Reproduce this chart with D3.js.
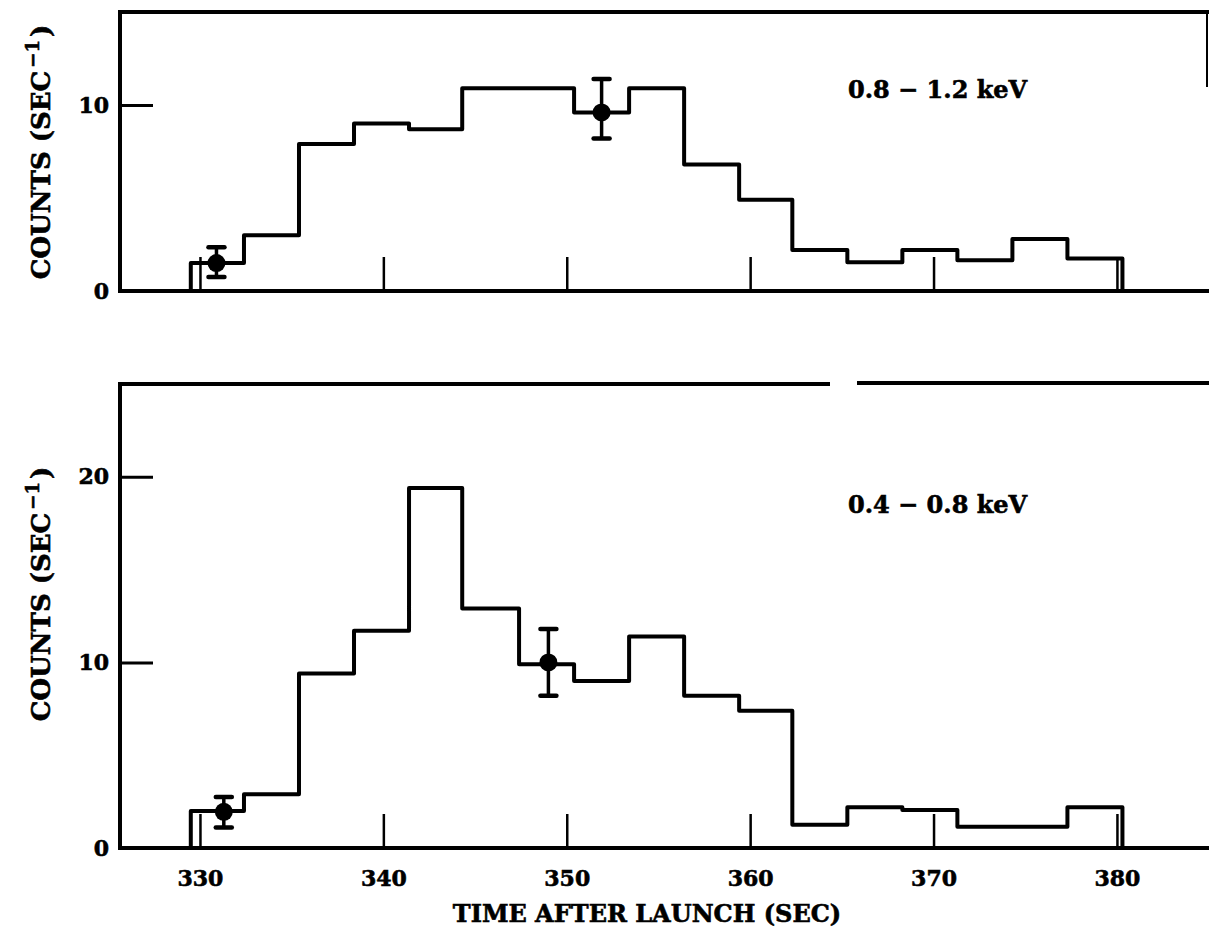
<!DOCTYPE html>
<html>
<head>
<meta charset="utf-8">
<script src="https://cdn.jsdelivr.net/npm/d3@7"></script>
<style>
body{margin:0;background:#fff;}
text{font-family:"DejaVu Serif",serif;font-weight:bold;fill:#000;stroke:#000;stroke-width:0.6px;}
</style>
</head>
<body>
<svg id="chart"></svg>
<script>
// 3 s bins, time after launch (sec)
var binEdges=[329.5,332.4,335.4,338.4,341.4,344.3,347.4,350.4,353.4,356.4,359.4,362.3,365.3,368.3,371.3,374.3,377.3,380.3];
var highCounts=[1.5,3.0,7.9,9.0,8.7,10.9,10.9,9.6,10.9,6.8,4.9,2.2,1.55,2.2,1.65,2.8,1.75];
var lowCounts=[2.0,2.9,9.4,11.7,19.4,12.9,9.9,9.0,11.4,8.2,7.4,1.25,2.2,2.05,1.15,1.15,2.2];
var highErrT=[330.9,351.9];
var highErrV=[1.5,9.6];
var highErrLo=[0.75,8.2];
var highErrHi=[2.35,11.4];
var lowErrT=[331.3,349.0];
var lowErrV=[1.95,10.0];
var lowErrLo=[1.1,8.2];
var lowErrHi=[2.75,11.8];
var timeTicks=[330,340,350,360,370,380];
var highYTicks=[0,10];
var lowYTicks=[0,10,20];

var w=1209,h=932;
var svg=d3.select("#chart").attr("width",w).attr("height",h);

var xScale=d3.scaleLinear().domain([325.64,385.02]).range([120,1209]);

function panel(counts,errT,errV,errLo,errHi,yMax,yRange,yTicks,showLabels,label,labelY,labelCY){
  var yScale=d3.scaleLinear().domain([0,yMax]).range(yRange);
  var g=svg.append("g");
  var y0=yScale(0),yTop=yScale(yMax);

  // frame
  g.append("line").attr("x1",120).attr("x2",120).attr("y1",yTop-2).attr("y2",y0+2)
   .attr("stroke","#000").attr("stroke-width",4);
  g.append("line").attr("x1",118).attr("x2",1209).attr("y1",y0).attr("y2",y0)
   .attr("stroke","#000").attr("stroke-width",4);

  var xAxis=d3.axisBottom(xScale).tickValues(timeTicks).tickSizeInner(-34).tickSizeOuter(0).tickPadding(22);
  if(!showLabels) xAxis.tickFormat("");
  var xa=g.append("g").attr("transform","translate(0,"+y0+")").call(xAxis);
  xa.select(".domain").remove();
  xa.selectAll("line").attr("stroke","#000").attr("stroke-width",2.5);
  xa.selectAll("text").style("font-family","DejaVu Serif").style("font-weight","bold").style("font-size","22px").attr("fill","#000");

  var yAxis=d3.axisLeft(yScale).tickValues(yTicks).tickSizeInner(-33).tickSizeOuter(0).tickPadding(11);
  var ya=g.append("g").attr("transform","translate(120,0)").call(yAxis);
  ya.select(".domain").remove();
  ya.selectAll("line").attr("stroke","#000").attr("stroke-width",3);
  ya.selectAll("text").style("font-family","DejaVu Serif").style("font-weight","bold").style("font-size","22px").attr("fill","#000");

  // histogram
  var pts=[[binEdges[0],0]];
  counts.forEach(function(c,i){
    pts.push([binEdges[i],c]);
    pts.push([binEdges[i+1],c]);
  });
  pts.push([binEdges[counts.length],0]);
  var line=d3.line().x(function(d){return xScale(d[0]);}).y(function(d){return yScale(d[1]);});
  g.append("path").datum(pts).attr("d",line).attr("fill","none")
   .attr("stroke","#000").attr("stroke-width",4).attr("stroke-linejoin","round");

  // error bars
  errT.forEach(function(t,i){
    var x=xScale(t);
    g.append("line").attr("x1",x).attr("x2",x).attr("y1",yScale(errLo[i])).attr("y2",yScale(errHi[i]))
     .attr("stroke","#000").attr("stroke-width",3.5);
    [errLo[i],errHi[i]].forEach(function(v){
      g.append("line").attr("x1",x-8).attr("x2",x+8).attr("y1",yScale(v)).attr("y2",yScale(v))
       .attr("stroke","#000").attr("stroke-width",4.5).attr("stroke-linecap","round");
    });
    g.append("circle").attr("cx",x).attr("cy",yScale(errV[i])).attr("r",9).attr("fill","#000");
  });

  // energy band label
  g.append("text").attr("x",848).attr("y",labelY).style("font-size","24px").text(label);

  // y label
  var yl=g.append("text").attr("transform","translate(50,"+labelCY+") rotate(-90)")
   .attr("text-anchor","middle").style("font-size","26px");
  yl.append("tspan").text("COUNTS (SEC");
  yl.append("tspan").attr("dy",-11).attr("dx",3).style("font-size","18px").text("\u22121");
  yl.append("tspan").attr("dy",11).attr("dx",3).text(")");
  return g;
}

var topPanel=panel(highCounts,highErrT,highErrV,highErrLo,highErrHi,15,[291,12],highYTicks,false,"0.8 \u2212 1.2 keV",98,152);
topPanel.append("line").attr("x1",118).attr("x2",1209).attr("y1",12).attr("y2",12).attr("stroke","#000").attr("stroke-width",4);
topPanel.append("line").attr("x1",1207).attr("x2",1207).attr("y1",10).attr("y2",87).attr("stroke","#000").attr("stroke-width",2);

var bottomPanel=panel(lowCounts,lowErrT,lowErrV,lowErrLo,lowErrHi,25,[848,384],lowYTicks,true,"0.4 \u2212 0.8 keV",513,594);
bottomPanel.append("line").attr("x1",118).attr("x2",830).attr("y1",384).attr("y2",384).attr("stroke","#000").attr("stroke-width",4);
bottomPanel.append("line").attr("x1",857).attr("x2",1209).attr("y1",383).attr("y2",383).attr("stroke","#000").attr("stroke-width",4);

svg.append("text").attr("x",647).attr("y",922).attr("text-anchor","middle").style("font-size","24px")
   .text("TIME AFTER LAUNCH (SEC)");
</script>
</body>
</html>
